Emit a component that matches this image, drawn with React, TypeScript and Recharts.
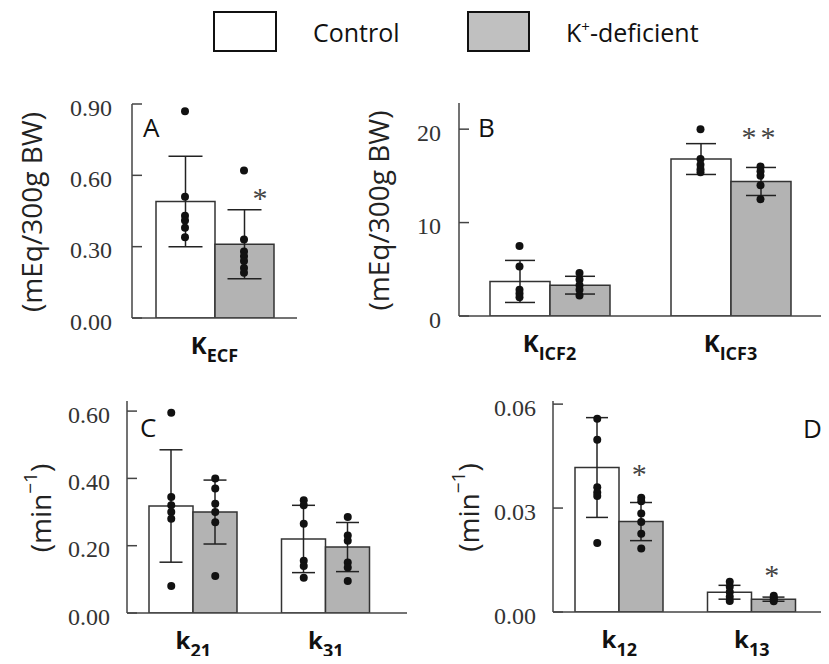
import React from 'react'
import { Bar, ComposedChart, ErrorBar, Scatter, XAxis, YAxis } from 'recharts'

const SANS = '"Open Sans", sans-serif'
const SERIF = '"Liberation Serif", serif'
const FRAME = '#444'
const CTRL_FILL = '#ffffff'
const DEF_FILL = '#b3b3b3'

// A: K_ECF
const aMain = ['K']
const aSub = ['ECF']
const aCtrl = [0.49]
const aCtrlSd = [0.19]
const aDef = [0.31]
const aDefSd = [0.145]
const aCtrlDots = [[0.87, 0.51, 0.43, 0.41, 0.38, 0.34]]
const aDefDots = [[0.62, 0.33, 0.28, 0.26, 0.24, 0.21, 0.19]]
const aStars = ['*']
const aStarAt = [0.53]
const aTicks = [0, 0.3, 0.6, 0.9]

// B: K_ICF2, K_ICF3
const bMain = ['K', 'K']
const bSub = ['ICF2', 'ICF3']
const bCtrl = [3.7, 16.8]
const bCtrlSd = [2.25, 1.65]
const bDef = [3.3, 14.4]
const bDefSd = [0.95, 1.5]
const bCtrlDots = [[7.5, 5.3, 2.8, 2.4, 2.0], [20.0, 16.8, 16.2, 15.7, 15.4]]
const bDefDots = [[4.6, 3.9, 3.3, 2.8, 2.2], [16.0, 15.5, 15.0, 14.0, 12.5]]
const bStars = ['', '**']
const bStarAt = [0, 19.8]
const bTicks = [0, 10, 20]

// C: k21, k31
const cMain = ['k', 'k']
const cSub = ['21', '31']
const cCtrl = [0.318, 0.22]
const cCtrlSd = [0.167, 0.1]
const cDef = [0.3, 0.196]
const cDefSd = [0.095, 0.073]
const cCtrlDots = [[0.595, 0.345, 0.32, 0.3, 0.28, 0.08], [0.335, 0.32, 0.265, 0.155, 0.14, 0.105]]
const cDefDots = [[0.4, 0.37, 0.325, 0.3, 0.27, 0.11], [0.285, 0.23, 0.215, 0.15, 0.135, 0.095]]
const cStars = ['', '']
const cStarAt = [0, 0]
const cTicks = [0, 0.2, 0.4, 0.6]

// D: k12, k13
const dMain = ['k', 'k']
const dSub = ['12', '13']
const dCtrl = [0.0417, 0.0057]
const dCtrlSd = [0.0144, 0.002]
const dDef = [0.0261, 0.0037]
const dDefSd = [0.0055, 0.0006]
const dCtrlDots = [[0.0558, 0.0497, 0.036, 0.0345, 0.0335, 0.0199], [0.0087, 0.0073, 0.0058, 0.0044, 0.0032]]
const dDefDots = [[0.033, 0.032, 0.0284, 0.026, 0.0226, 0.0183], [0.0047, 0.0041, 0.0036, 0.0031]]
const dStars = ['*', '*']
const dStarAt = [0.0417, 0.0124]
const dTicks = [0, 0.03, 0.06]

type PanelProps = {
	left: number
	top: number
	width: number
	height: number
	plotLeft: number
	plotTop: number
	plotH: number
	marginRight: number
	padR: number
	barSize: number
	cap: number
	gap: number
	labelX: number
	labelDy?: number
	main: string[]
	sub: string[]
	ctrl: number[]
	ctrlSd: number[]
	def: number[]
	defSd: number[]
	ctrlDots: number[][]
	defDots: number[][]
	stars: string[]
	starAt: number[]
	starDx?: number
	ticks: number[]
	yMax: number
	digits: number
	yLabel: string
}

const XTick = (props: any) => {
	const [m, s] = String(props.payload.value).split('|')
	return (
		<text x={props.x} y={props.y + 36} textAnchor='middle' fontFamily={SANS} fontWeight={700} fill='#111'>
			<tspan fontSize={24}>{m}</tspan>
			<tspan fontSize={18} dy={8}>{s}</tspan>
		</text>
	)
}

// '^' marks superscript parts of the y label
const YLabel = ({ cx, cy, text }: any) => {
	const parts = String(text).split('^')
	return (
		<text
			x={cx}
			y={cy}
			transform={`rotate(-90 ${cx} ${cy})`}
			textAnchor='middle'
			dominantBaseline='central'
			fontFamily={SANS}
			fontSize={28}
			fill='#222'
		>
			{parts.map((t, i) =>
				i % 2 === 1 ? (
					<tspan key={i} fontSize={19} dy={-10}>{t}</tspan>
				) : (
					<tspan key={i} dy={i > 0 ? 10 : 0}>{t}</tspan>
				)
			)}
		</text>
	)
}

const Panel = (p: PanelProps) => {
	const n = p.main.length
	const rows = p.main.map((m, i) => ({
		name: m + '|' + p.sub[i],
		ctrl: p.ctrl[i],
		ctrlSd: p.ctrlSd[i],
		def: p.def[i],
		defSd: p.defSd[i],
	}))
	const band = (p.width - p.plotLeft - p.marginRight - p.padR) / n
	const off = p.barSize / 2 / band
	const ctrlPts = p.ctrlDots.flatMap((vals, i) => vals.map((v) => ({ x: i + 0.5 - off, y: v })))
	const defPts = p.defDots.flatMap((vals, i) => vals.map((v) => ({ x: i + 0.5 + off, y: v })))
	const starPts = p.stars
		.map((s, i) => ({ x: i + 0.5 + off, y: p.starAt[i], s }))
		.filter((d) => d.s)
	const bottom = p.height - p.plotTop - p.plotH - 40

	const dot = (d: any) => <circle cx={d.cx} cy={d.cy} r={4} fill='#111' />
	const star = (d: any) => (
		<text
			x={d.cx + (p.starDx || 0)}
			y={d.cy + 16}
			textAnchor='middle'
			fontFamily={SERIF}
			fontSize={30}
			fill='#444'
			letterSpacing={4}
		>
			{d.payload.s}
		</text>
	)

	return (
		<div style={{ position: 'absolute', left: p.left, top: p.top }}>
			<ComposedChart
				width={p.width}
				height={p.height}
				data={rows}
				barGap={0}
				margin={{ top: p.plotTop, right: p.marginRight, left: 0, bottom }}
			>
				<XAxis
					xAxisId='cat'
					dataKey='name'
					type='category'
					interval={0}
					height={40}
					padding={{ left: 0, right: p.padR }}
					tickLine={false}
					tickSize={0}
					tickMargin={0}
					tick={<XTick />}
					axisLine={{ stroke: FRAME, strokeWidth: 1.5 }}
				/>
				<XAxis
					xAxisId='n'
					dataKey='x'
					type='number'
					domain={[0, n]}
					allowDataOverflow
					padding={{ left: 0, right: p.padR }}
					hide
				/>
				<XAxis
					xAxisId='top'
					orientation='top'
					height={0}
					tick={false}
					tickLine={false}
					axisLine={{ stroke: FRAME, strokeWidth: 1.5 }}
				/>
				<YAxis
					domain={[0, p.yMax]}
					ticks={p.ticks}
					allowDataOverflow
					interval={0}
					width={p.plotLeft}
					tickSize={-10}
					tickMargin={10 + p.gap}
					tick={{ fill: '#333', fontFamily: SERIF, fontSize: 24, dy: 3 }}
					tickFormatter={(v: number) => v.toFixed(p.digits)}
					axisLine={{ stroke: FRAME, strokeWidth: 1.5 }}
					tickLine={{ stroke: FRAME, strokeWidth: 1.5 }}
					label={{
						position: 'insideLeft',
						content: () => (
							<YLabel cx={p.labelX} cy={p.plotTop + p.plotH / 2 + (p.labelDy || 0)} text={p.yLabel} />
						),
					}}
				/>
				<YAxis
					yAxisId='r'
					orientation='right'
					width={0}
					tick={false}
					tickLine={false}
					axisLine={{ stroke: FRAME, strokeWidth: 1.5 }}
				/>
				<Bar xAxisId='cat' dataKey='ctrl' fill={CTRL_FILL} stroke='#333' strokeWidth={1.5} barSize={p.barSize} isAnimationActive={false}>
					<ErrorBar dataKey='ctrlSd' width={p.cap / 2} stroke='#222' strokeWidth={1.5} />
				</Bar>
				<Bar xAxisId='cat' dataKey='def' fill={DEF_FILL} stroke='#333' strokeWidth={1.5} barSize={p.barSize} isAnimationActive={false}>
					<ErrorBar dataKey='defSd' width={p.cap / 2} stroke='#222' strokeWidth={1.5} />
				</Bar>
				<Scatter xAxisId='n' data={ctrlPts} dataKey='y' shape={dot} isAnimationActive={false} />
				<Scatter xAxisId='n' data={defPts} dataKey='y' shape={dot} isAnimationActive={false} />
				<Scatter xAxisId='n' data={starPts} dataKey='y' shape={star} isAnimationActive={false} />
			</ComposedChart>
		</div>
	)
}

export default function App() {
	return (
		<div
			style={{
				position: 'relative',
				width: 829,
				height: 664,
				margin: -8,
				overflow: 'hidden',
				background: '#fff',
			}}
		>
			<Panel
				left={0} top={80} width={320} height={300}
				plotLeft={132} plotTop={24} plotH={214} marginRight={23} padR={0}
				barSize={59} cap={34} gap={20} labelX={31} labelDy={1}
				main={aMain} sub={aSub} ctrl={aCtrl} ctrlSd={aCtrlSd} def={aDef} defSd={aDefSd}
				ctrlDots={aCtrlDots} defDots={aDefDots} stars={aStars} starAt={aStarAt} starDx={18}
				ticks={aTicks} yMax={0.9} digits={2} yLabel='(mEq/300g BW)'
			/>
			<Panel
				left={340} top={80} width={505} height={300}
				plotLeft={119} plotTop={23} plotH={213} marginRight={0} padR={24}
				barSize={60} cap={30} gap={18} labelX={38} labelDy={1}
				main={bMain} sub={bSub} ctrl={bCtrl} ctrlSd={bCtrlSd} def={bDef} defSd={bDefSd}
				ctrlDots={bCtrlDots} defDots={bDefDots} stars={bStars} starAt={bStarAt}
				ticks={bTicks} yMax={22.8} digits={0} yLabel='(mEq/300g BW)'
			/>
			<Panel
				left={0} top={380} width={407} height={284}
				plotLeft={127} plotTop={21} plotH={212} marginRight={0} padR={15}
				barSize={44} cap={23} gap={17} labelX={40} labelDy={1}
				main={cMain} sub={cSub} ctrl={cCtrl} ctrlSd={cCtrlSd} def={cDef} defSd={cDefSd}
				ctrlDots={cCtrlDots} defDots={cDefDots} stars={cStars} starAt={cStarAt}
				ticks={cTicks} yMax={0.63} digits={2} yLabel='(min^−1^)'
			/>
			<Panel
				left={420} top={380} width={430} height={284}
				plotLeft={133} plotTop={21} plotH={211} marginRight={0} padR={32}
				barSize={44} cap={22} gap={17} labelX={48} labelDy={1}
				main={dMain} sub={dSub} ctrl={dCtrl} ctrlSd={dCtrlSd} def={dDef} defSd={dDefSd}
				ctrlDots={dCtrlDots} defDots={dDefDots} stars={dStars} starAt={dStarAt}
				ticks={dTicks} yMax={0.0609} digits={2} yLabel='(min^−1^)'
			/>
			<svg width={829} height={664} style={{ position: 'absolute', left: 0, top: 0, pointerEvents: 'none' }}>
				<rect x={214} y={12} width={62} height={39} fill={CTRL_FILL} stroke='#111' strokeWidth={2} />
				<text x={313} y={42} fontFamily={SANS} fontSize={25} fill='#111'>Control</text>
				<rect x={468} y={12} width={61} height={39} fill='#c0c0c0' stroke='#111' strokeWidth={2} />
				<text x={566} y={42} fontFamily={SANS} fontSize={25} fill='#111'>
					K<tspan fontSize={15} dy={-10}>+</tspan><tspan dy={10}>-deficient</tspan>
				</text>
				<text x={143} y={137} fontFamily={SANS} fontSize={26} fill='#111'>A</text>
				<text x={478} y={137} fontFamily={SANS} fontSize={26} fill='#111'>B</text>
				<text x={140} y={437} fontFamily={SANS} fontSize={26} fill='#111'>C</text>
				<text x={803} y={438} fontFamily={SANS} fontSize={26} fill='#111'>D</text>
			</svg>
		</div>
	)
}
